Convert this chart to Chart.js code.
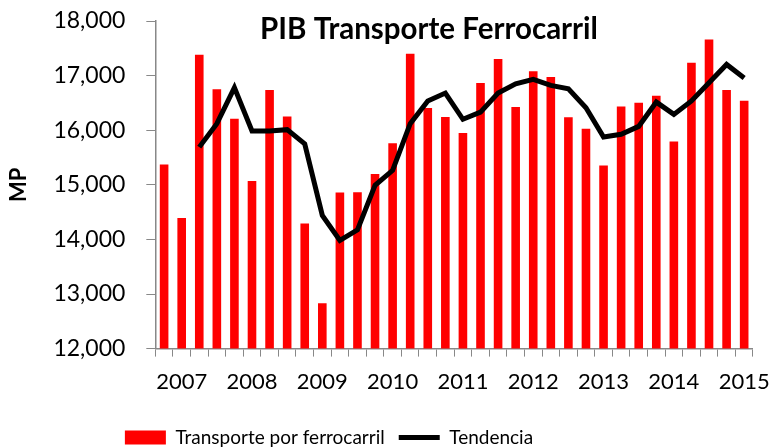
<!DOCTYPE html>
<html>
<head>
<meta charset="utf-8">
<script src="https://cdn.jsdelivr.net/npm/chart.js@4.4.1/dist/chart.umd.min.js"></script>
<style>
  html, body { margin: 0; padding: 0; background: #fff; }
  #wrap { width: 782px; height: 448px; }
</style>
</head>
<body>
<div id="wrap"><canvas id="chart" width="782" height="448"></canvas></div>
<script>
// quarterly categories, year label sits on the 2nd quarter slot
const quarterLabels = [
  '', '2007', '', '', '', '2008', '', '', '', '2009', '', '', '', '2010', '', '', '',
  '2011', '', '', '', '2012', '', '', '', '2013', '', '', '', '2014', '', '', '', '2015'
];

// Transporte por ferrocarril (MP)
const railValues = [
  15370, 14390, 17380, 16750, 16210, 15070, 16735, 16250, 14290, 12830, 14860, 14865,
  15200, 15760, 17400, 16405, 16240, 15950, 16865, 17305, 16425, 17080, 16975, 16235,
  16025, 15355, 16435, 16505, 16630, 15795, 17235, 17660, 16735, 16540
];

// Tendencia
const trendValues = [
  null, null, 15690, 16120, 16780, 15985, 15985, 16010, 15750, 14440, 13980, 14175,
  14990, 15265, 16120, 16535, 16680, 16200, 16330, 16680, 16850, 16930, 16820, 16760,
  16410, 15875, 15925, 16070, 16515, 16290, 16535, 16870, 17205, 16955
];

const yTicks = [12000, 13000, 14000, 15000, 16000, 17000, 18000];

const chartTitle = 'PIB Transporte Ferrocarril';

Chart.defaults.font.family = 'Lato, "Open Sans", sans-serif';
Chart.defaults.color = '#000';

// title is drawn over the plot, like the original
const titlePlugin = {
  id: 'overTitle',
  afterDraw(chart) {
    const ctx = chart.ctx;
    ctx.save();
    ctx.font = 'bold 29.5px Lato, sans-serif';
    ctx.fillStyle = '#000';
    ctx.textAlign = 'center';
    ctx.textBaseline = 'middle';
    ctx.fillText(chartTitle, 429, 29);
    ctx.restore();
  }
};

// nudge the legend row: a bit lower and further left than chart.js centres it
const legendShift = {
  id: 'legendShift',
  beforeDraw(chart) {
    const lg = chart.legend;
    if (!lg || lg._shifted) return;
    lg.left -= 52; lg.right -= 52;
    lg.top += 7; lg.bottom += 7;
    lg._shifted = true;
  }
};

const ctx = document.getElementById('chart').getContext('2d');
new Chart(ctx, {
  type: 'bar',
  data: {
    labels: quarterLabels,
    datasets: [
      {
        label: 'Transporte por ferrocarril',
        data: railValues,
        backgroundColor: '#ff0000',
        borderWidth: 0,
        barPercentage: 0.49,
        categoryPercentage: 1,
        order: 1
      },
      {
        type: 'line',
        label: 'Tendencia',
        data: trendValues,
        borderColor: '#000',
        backgroundColor: '#000',
        borderWidth: 5,
        pointRadius: 0,
        tension: 0,
        spanGaps: false,
        order: 0
      }
    ]
  },
  options: {
    responsive: false,
    animation: false,
    layout: { padding: { left: 1, right: 21, top: 21, bottom: -2 } },
    plugins: {
      legend: {
        position: 'bottom',
        labels: {
          font: { size: 19 },
          usePointStyle: true,
          pointStyleWidth: 41,
          boxHeight: 14,
          padding: 14,
          sort: (a, b) => a.datasetIndex - b.datasetIndex,
          generateLabels: (chart) =>
            Chart.defaults.plugins.legend.labels.generateLabels(chart).map((l) => {
              l.pointStyle = l.datasetIndex === 0 ? 'rect' : 'line';
              return l;
            })
        }
      },
      tooltip: { enabled: false }
    },
    scales: {
      x: {
        offset: true,
        grid: {
          display: true,
          offset: true,
          drawOnChartArea: false,
          tickLength: 8,
          color: '#888'
        },
        border: { color: '#888', width: 1.5 },
        ticks: {
          autoSkip: false,
          maxRotation: 0,
          padding: 12,
          font: { size: 22 }
        }
      },
      y: {
        min: 12000,
        max: 18000,
        afterBuildTicks: (axis) => { axis.ticks = yTicks.map((v) => ({ value: v })); },
        // tick padding would otherwise also push the plot top down
        afterFit: (axis) => { axis.paddingTop = 0; },
        grid: {
          display: true,
          drawOnChartArea: false,
          tickLength: 9,
          color: '#888'
        },
        border: { color: '#888', width: 1.5 },
        ticks: {
          padding: 21,
          font: { size: 23 },
          callback: (v) => v.toLocaleString('en-US')
        },
        title: {
          display: true,
          text: 'MP',
          font: { size: 22, weight: 'bold' },
          padding: { top: 5, bottom: 0 }
        }
      }
    }
  },
  plugins: [titlePlugin, legendShift]
});
</script>
</body>
</html>
